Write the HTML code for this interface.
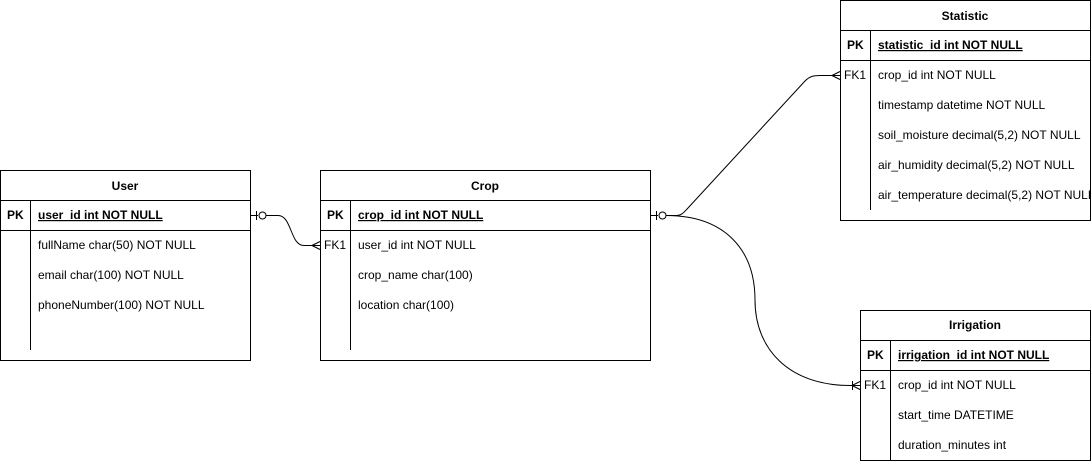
<!DOCTYPE html>
<html><head><meta charset="utf-8"><style>
html,body{margin:0;padding:0;background:#fff;}
svg{display:block;}
text{font-family:"Liberation Sans",Arial,sans-serif;font-size:12px;fill:#000;}
.b{font-weight:bold;}
</style></head><body>
<svg width="1091" height="461" viewBox="0 0 1091 461" xmlns="http://www.w3.org/2000/svg">
<g fill="none" stroke="#000" stroke-width="1">
<!-- User -->
<rect x="0.5" y="170.5" width="250" height="190"/>
<line x1="0.5" y1="200.5" x2="250.5" y2="200.5"/>
<line x1="0.5" y1="230.5" x2="250.5" y2="230.5"/>
<line x1="30.5" y1="200.5" x2="30.5" y2="350"/>
<!-- Crop -->
<rect x="320.5" y="170.5" width="330" height="190"/>
<line x1="320.5" y1="200.5" x2="650.5" y2="200.5"/>
<line x1="320.5" y1="230.5" x2="650.5" y2="230.5"/>
<line x1="350.5" y1="200.5" x2="350.5" y2="350"/>
<!-- Statistic -->
<rect x="840.5" y="0.5" width="250" height="220"/>
<line x1="840.5" y1="30.5" x2="1090.5" y2="30.5"/>
<line x1="840.5" y1="60.5" x2="1090.5" y2="60.5"/>
<line x1="870.5" y1="30.5" x2="870.5" y2="210"/>
<!-- Irrigation -->
<rect x="860.5" y="310.5" width="230" height="150"/>
<line x1="860.5" y1="340.5" x2="1090.5" y2="340.5"/>
<line x1="860.5" y1="370.5" x2="1090.5" y2="370.5"/>
<line x1="890.5" y1="340.5" x2="890.5" y2="460"/>
<!-- User-Crop connector -->
<line x1="250.5" y1="215.5" x2="258" y2="215.5"/>
<line x1="256.5" y1="211" x2="256.5" y2="220"/>
<circle cx="262.5" cy="215.5" r="3.5" fill="#fff"/>
<path d="M266 215.5 H278 C292 215.5 290 245.5 304 245.5 H320"/>
<path d="M312 245.5 L320 241.5 M312 245.5 L320 249.5"/>
<!-- Crop-Statistic -->
<line x1="650.5" y1="215.5" x2="658" y2="215.5"/>
<line x1="656.5" y1="211" x2="656.5" y2="220"/>
<circle cx="662.5" cy="215.5" r="3.5" fill="#fff"/>
<path d="M666 215.5 H676 C682 215.5 684 212 688 208 L805 81 C810 76 814 75.5 820 75.5 H840"/>
<path d="M832 75.5 L840 71.5 M832 75.5 L840 79.5"/>
<!-- Crop-Irrigation -->
<path d="M666 215.5 C725 215.5 755 250 755 300 C755 350 790 385.5 850 385.5 H860"/>
<path d="M852 385.5 L860 381.5 M852 385.5 L860 389.5"/>
<line x1="852.5" y1="381" x2="852.5" y2="390"/>
</g>
<!-- texts -->
<text class="b" x="125" y="190" text-anchor="middle">User</text>
<text class="b" x="7" y="219">PK</text>
<text class="b" x="38" y="219" text-decoration="underline">user_id int NOT NULL</text>
<text x="38" y="249">fullName char(50) NOT NULL</text>
<text x="38" y="279">email char(100) NOT NULL</text>
<text x="38" y="309">phoneNumber(100) NOT NULL</text>

<text class="b" x="485" y="190" text-anchor="middle">Crop</text>
<text class="b" x="327" y="219">PK</text>
<text class="b" x="358" y="219" text-decoration="underline">crop_id int NOT NULL</text>
<text x="324" y="249">FK1</text>
<text x="358" y="249">user_id int NOT NULL</text>
<text x="358" y="279">crop_name char(100)</text>
<text x="358" y="309">location char(100)</text>

<text class="b" x="965" y="20" text-anchor="middle">Statistic</text>
<text class="b" x="847" y="49">PK</text>
<text class="b" x="878" y="49" text-decoration="underline">statistic_id int NOT NULL</text>
<text x="844" y="79">FK1</text>
<text x="878" y="79">crop_id int NOT NULL</text>
<text x="878" y="109">timestamp datetime NOT NULL</text>
<text x="878" y="139">soil_moisture decimal(5,2) NOT NULL</text>
<text x="878" y="169">air_humidity decimal(5,2) NOT NULL</text>
<text x="878" y="199">air_temperature decimal(5,2) NOT NULL</text>

<text class="b" x="975" y="329" text-anchor="middle">Irrigation</text>
<text class="b" x="867" y="359">PK</text>
<text class="b" x="898" y="359" text-decoration="underline">irrigation_id int NOT NULL</text>
<text x="864" y="389">FK1</text>
<text x="898" y="389">crop_id int NOT NULL</text>
<text x="898" y="419">start_time DATETIME</text>
<text x="898" y="449">duration_minutes int</text>
</svg>
</body></html>
